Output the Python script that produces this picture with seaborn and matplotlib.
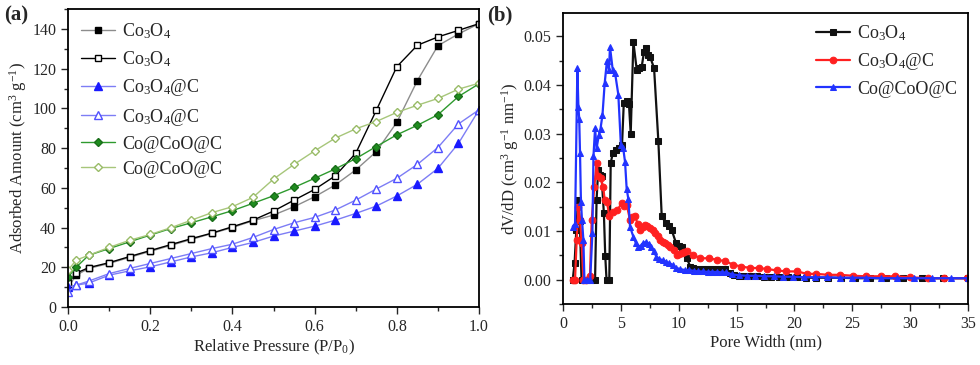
import numpy as np
import pandas as pd
import matplotlib
matplotlib.use("Agg")
import matplotlib.pyplot as plt
import seaborn as sns
from matplotlib.ticker import MultipleLocator

# ---------------- panel (a): N2 isotherms ----------------
p_rel = [0.0, 0.02, 0.05, 0.10, 0.15, 0.20, 0.25, 0.30, 0.35, 0.40, 0.45,
         0.50, 0.55, 0.60, 0.65, 0.70, 0.75, 0.80, 0.85, 0.90, 0.95, 1.0]

co3o4_ads = [10, 16, 19.4, 21.9, 25, 28, 31, 34, 37, 40, 43.4,
             46.3, 50.5, 55.5, 61.4, 69, 78.2, 93, 114, 131.6, 137.5, 142.7]
co3o4_des = [12, 17, 19.8, 22.3, 25.4, 28.4, 31.4, 34.4, 37.2, 40.4, 43.7,
             48.3, 53.8, 59.2, 66, 77.4, 99, 121, 131.8, 136, 139.3, 142.7]
co3o4c_ads = [10, 11, 12, 16, 18.2, 20.2, 22.7, 25.2, 27.3, 30, 32.5,
              35.7, 38.2, 40.7, 43.7, 47.1, 50.8, 55.9, 61.8, 69.8, 82.4, 99.3]
co3o4c_des = [7.6, 11, 13, 16.8, 19.4, 21.9, 24.4, 26.9, 29.4, 31.6, 35,
              39, 42.4, 45.1, 48.8, 53.8, 59.4, 64.8, 71.8, 80.3, 92.2, 99.3]
cocoo_ads = [15, 20, 26, 29.4, 32.8, 36.2, 39.5, 42.4, 45.4, 48.5, 52.2,
             56, 60.2, 64.8, 69.5, 74.7, 80.8, 86.7, 91.5, 96.8, 106, 112.4]
cocoo_des = [18.5, 23.6, 26, 30, 33.6, 36.5, 39.9, 43.7, 47.5, 50.5, 55.2,
             64.4, 71.8, 78.6, 85, 89.7, 93.4, 98, 101.6, 105, 109.7, 112.7]

# ---------------- panel (b): pore size distribution ----------------
co3o4_w = [0.84, 1.0, 1.15, 1.3, 1.45, 1.6, 2.0, 2.4, 2.77, 2.9, 3.04, 3.2, 3.33,
           3.53, 3.65, 3.76, 4.0, 4.12, 4.3, 4.6, 4.85, 5.1, 5.25, 5.5, 5.7, 5.85,
           6.08, 6.37, 6.6, 6.8, 7.0, 7.18, 7.35, 7.52, 7.87, 8.24, 8.53, 8.9,
           9.15, 9.39, 9.77, 10.0, 10.26, 10.69, 11.0, 11.25, 11.5, 11.8, 12.1,
           12.4, 12.7, 13.0, 13.3, 13.6, 14.0, 14.4, 14.8, 15.2, 15.7, 16.2,
           16.8, 17.4, 18.0, 18.7, 19.4, 20.2, 21.0, 21.9, 22.9, 24.0, 25.2,
           26.5, 27.9, 29.4, 31.0, 32.8, 35.0]
co3o4_dv = [0.0, 0.0034, 0.0102, 0.0164, 0.012, 0.0, 0.0, 0.0, 0.0, 0.0164,
            0.0225, 0.0215, 0.0212, 0.0137, 0.0049, 0.0, 0.0, 0.0239, 0.026,
            0.0266, 0.027, 0.0277, 0.0362, 0.0366, 0.036, 0.030, 0.0488, 0.0431,
            0.0435, 0.0437, 0.0468, 0.0475, 0.0462, 0.0458, 0.0434, 0.0284,
            0.013, 0.0116, 0.011, 0.0102, 0.0075, 0.007, 0.0068, 0.0044, 0.0027,
            0.0024, 0.0022, 0.0022, 0.0022, 0.0022, 0.0021, 0.0021, 0.0021,
            0.0021, 0.0021, 0.0013, 0.0009, 0.0008, 0.0008, 0.0007, 0.0007,
            0.0006, 0.0006, 0.0005, 0.0005, 0.0005, 0.0004, 0.0004, 0.0004,
            0.0004, 0.0003, 0.0003, 0.0003, 0.0003, 0.0003, 0.0003, 0.0003]

co3o4c_w = [0.84, 1.04, 1.18, 1.33, 1.47, 1.61, 1.76, 2.0, 2.33, 2.48, 2.7, 2.9,
            3.04, 3.24, 3.47, 3.6, 3.8, 4.0, 4.3, 4.7, 5.07, 5.3, 5.5, 5.79,
            6.0, 6.22, 6.45, 6.65, 6.87, 7.09, 7.3, 7.52, 7.75, 7.95, 8.17,
            8.39, 8.6, 8.82, 9.05, 9.25, 9.55, 9.83, 10.05, 10.26, 10.48, 10.7,
            11.27, 11.85, 12.6, 13.3, 14.0, 14.7, 15.4, 16.2, 16.9, 17.6, 18.5,
            19.3, 20.2, 21.1, 21.9, 22.9, 23.9, 25.1, 26.2, 27.5, 28.7, 30.0,
            31.5, 32.9, 34.9]
co3o4c_dv = [0.0, 0.0, 0.0082, 0.015, 0.0123, 0.0075, 0.0, 0.0, 0.0007, 0.0123,
             0.019, 0.0239, 0.0212, 0.0209, 0.0191, 0.0164, 0.016, 0.013, 0.014,
             0.0143, 0.0157, 0.0152, 0.0154, 0.0123, 0.0128, 0.013, 0.0115,
             0.0102, 0.0108, 0.0113, 0.011, 0.0106, 0.0101, 0.0096, 0.0089,
             0.0082, 0.0078, 0.0075, 0.0072, 0.0068, 0.006, 0.0051, 0.0053,
             0.0055, 0.0057, 0.0058, 0.0051, 0.0044, 0.0044, 0.0041, 0.0038,
             0.0031, 0.0027, 0.0024, 0.0024, 0.0022, 0.0019, 0.0017, 0.0017,
             0.0012, 0.0012, 0.001, 0.001, 0.0008, 0.0007, 0.0007, 0.0007,
             0.0005, 0.0003, 0.0003, 0.0003]

cocoo_w = [0.84, 1.04, 1.24, 1.33, 1.4, 1.47, 1.55, 1.64, 1.76, 1.85, 2.1, 2.35,
           2.54, 2.63, 2.77, 2.9, 3.1, 3.24, 3.41, 3.6, 3.8, 3.97, 4.06, 4.3,
           4.5, 4.78, 5.0, 5.2, 5.36, 5.5, 5.65, 5.79, 6.08, 6.3, 6.5, 6.75,
           6.9, 7.2, 7.4, 7.6, 7.85, 8.07, 8.3, 8.6, 8.9, 9.2, 9.5, 9.8, 10.1,
           10.5, 10.9, 11.3, 11.7, 12.1, 12.5, 12.9, 13.3, 13.7, 14.1, 14.6,
           15.2, 15.9, 16.6, 17.4, 18.2, 19.0, 19.9, 20.8, 21.8, 22.8, 23.9,
           25.0, 26.2, 27.5, 28.9, 30.3, 31.9, 33.5, 35.0]
cocoo_dv = [0.0109, 0.0115, 0.0434, 0.0355, 0.033, 0.026, 0.016, 0.0123, 0.0082,
            0.0, 0.0, 0.0, 0.0096, 0.0253, 0.0311, 0.027, 0.0297, 0.031, 0.0338,
            0.0403, 0.045, 0.043, 0.0478, 0.043, 0.0424, 0.038, 0.0277, 0.027,
            0.0242, 0.0187, 0.0165, 0.0109, 0.0088, 0.0075, 0.0068, 0.007,
            0.0075, 0.0078, 0.0074, 0.0068, 0.0058, 0.0047, 0.0043, 0.004,
            0.0037, 0.0034, 0.003, 0.0024, 0.0022, 0.002, 0.002, 0.0018, 0.0017,
            0.0017, 0.0016, 0.0016, 0.0016, 0.0015, 0.0015, 0.0011, 0.0009,
            0.0008, 0.0008, 0.0007, 0.0007, 0.0006, 0.0006, 0.0005, 0.0005,
            0.0005, 0.0004, 0.0004, 0.0004, 0.0003, 0.0003, 0.0003, 0.0003,
            0.0003, 0.0003]

sns.set_style("ticks")
plt.rcParams['font.family'] = ['Liberation Serif', 'DejaVu Serif']
plt.rcParams['mathtext.fontset'] = 'custom'
plt.rcParams['mathtext.rm'] = 'Liberation Serif'
plt.rcParams['mathtext.it'] = 'Liberation Serif:italic'

fig = plt.figure(figsize=(9.8, 3.65), dpi=100)
ax1 = fig.add_axes([0.0694, 0.159, 0.4194, 0.816])
ax2 = fig.add_axes([0.5745, 0.167, 0.4133, 0.798])

CO3O4 = r'Co$_3$O$_4$'
CO3O4C = r'Co$_3$O$_4$@C'
COCOO = 'Co@CoO@C'

# (a) series: label, y, marker, marker size, line colour, marker face, marker edge
iso = [
    (CO3O4, co3o4_ads, 's', 4.6, '#8c8c8c', 'black', 'black'),
    (CO3O4, co3o4_des, 's', 4.6, 'black', 'white', 'black'),
    (CO3O4C, co3o4c_ads, '^', 5.2, '#7d7df5', '#1a1aff', '#1a1aff'),
    (CO3O4C, co3o4c_des, '^', 5.2, '#7d7df5', 'white', '#5050ff'),
    (COCOO, cocoo_ads, 'D', 4.3, '#2e9a2e', '#1e8c1e', '#1a6e1a'),
    (COCOO, cocoo_des, 'D', 4.3, '#a7c67a', 'white', '#98bb66'),
]
for lab, yy, mk, ms, lc, mf, me in iso:
    sns.lineplot(x=p_rel, y=yy, ax=ax1, label=lab, color=lc, marker=mk,
                 markersize=ms, markerfacecolor=mf,
                 markeredgecolor=me, markeredgewidth=1.0, linewidth=1.0,
                 estimator=None, sort=False)

ax1.set_xlim(0, 1.0)
ax1.set_ylim(0, 150)
ax1.xaxis.set_major_locator(MultipleLocator(0.2))
ax1.xaxis.set_minor_locator(MultipleLocator(0.1))
ax1.set_yticks([0, 20, 40, 60, 80, 100, 120, 140])
ax1.yaxis.set_minor_locator(MultipleLocator(10))
ax1.xaxis.set_major_formatter(matplotlib.ticker.FormatStrFormatter('%.1f'))
ax1.set_xlabel(r'Relative Pressure (P/P$_0$)', fontsize=12, labelpad=2)
ax1.set_ylabel(r'Adsorbed Amount (cm$^3$ g$^{-1}$)', fontsize=12, labelpad=2)
ax1.legend(loc='upper left', frameon=False, fontsize=13, handlelength=1.9,
           borderaxespad=0.3, labelspacing=0.45, handletextpad=0.4)
fig.text(0.004, 0.985, '(a)', fontsize=15, fontweight='bold', va='top')

# (b) series
psd = [
    (CO3O4, co3o4_w, co3o4_dv, 's', '#111111'),
    (CO3O4C, co3o4c_w, co3o4c_dv, 'o', '#ff2020'),
    (COCOO, cocoo_w, cocoo_dv, '^', '#2233ff'),
]
for lab, xx, yy, mk, c in psd:
    sns.lineplot(x=xx, y=yy, ax=ax2, label=lab, color=c, marker=mk,
                 markersize=4.8, markerfacecolor=c, markeredgecolor=c,
                 linewidth=1.6, estimator=None, sort=False)

ax2.set_xlim(0, 35)
ax2.set_ylim(-0.005, 0.0548)
ax2.xaxis.set_major_locator(MultipleLocator(5))
ax2.xaxis.set_minor_locator(MultipleLocator(2.5))
ax2.set_yticks([0.0, 0.01, 0.02, 0.03, 0.04, 0.05])
ax2.yaxis.set_minor_locator(MultipleLocator(0.005))
ax2.yaxis.set_major_formatter(matplotlib.ticker.FormatStrFormatter('%.2f'))
ax2.set_xlabel('Pore Width (nm)', fontsize=12, labelpad=2)
ax2.set_ylabel(r'dV/dD (cm$^3$ g$^{-1}$ nm$^{-1}$)', fontsize=12, labelpad=2)
ax2.legend(loc='upper right', frameon=False, fontsize=13, handlelength=1.9,
           borderaxespad=0.2, labelspacing=0.45, handletextpad=0.4)
fig.text(0.497, 0.985, '(b)', fontsize=15, fontweight='bold', va='top')

for ax in (ax1, ax2):
    ax.tick_params(which='both', direction='out', labelsize=11.5, width=1.0,
                   top=False, right=False)
    ax.tick_params(which='major', length=5)
    ax.tick_params(which='minor', length=3)
    for s in ax.spines.values():
        s.set_visible(True)
        s.set_linewidth(1.3)
        s.set_color('black')

fig.savefig('out.png', dpi=100)
